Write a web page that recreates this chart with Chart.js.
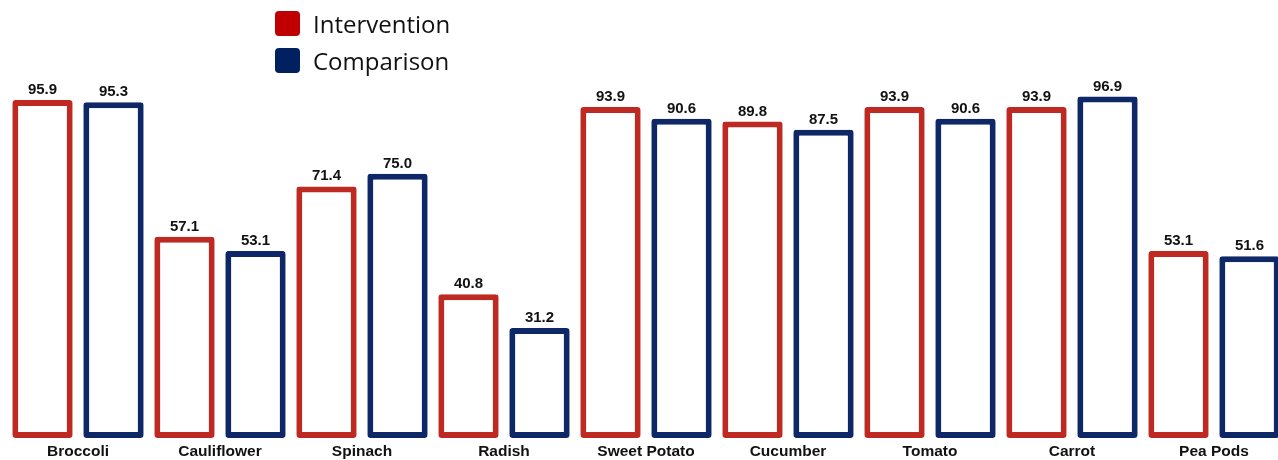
<!DOCTYPE html>
<html lang="en">
<head>
  <meta charset="UTF-8">
  <title>Vegetable acceptance</title>
  <script src="https://cdn.jsdelivr.net/npm/chart.js"></script>
  <style>
    html, body { margin: 0; padding: 0; background: #fff; overflow: hidden; }
    #wrap { position: relative; width: 1292px; height: 460px; }
    .leg { position: absolute; left: 275px; font-family: "Open Sans", "Noto Sans", sans-serif; font-size: 24px; color: #111; display: flex; align-items: center; }
    .leg span { display: inline-block; width: 25px; height: 25px; border-radius: 4px; margin-right: 13px; }
  </style>
</head>
<body>
  <div id="wrap">
    <canvas id="chart" width="1292" height="460"></canvas>
    <div class="leg" style="top:7px"><span style="background:#c00000"></span>Intervention</div>
    <div class="leg" style="top:44px"><span style="background:#002060"></span>Comparison</div>
  </div>

  <script>
    const categories = ['Broccoli', 'Cauliflower', 'Spinach', 'Radish', 'Sweet Potato', 'Cucumber', 'Tomato', 'Carrot', 'Pea Pods'];
    const intervention = [95.9, 57.1, 71.4, 40.8, 93.9, 89.8, 93.9, 93.9, 53.1];
    const comparison = [95.3, 53.1, 75.0, 31.2, 90.6, 87.5, 90.6, 96.9, 51.6];

    const valueLabels = {
      id: 'valueLabels',
      afterDatasetsDraw(c) {
        const ctx = c.ctx;
        ctx.save();
        ctx.font = 'bold 15px "Liberation Sans", Arial, sans-serif';
        ctx.fillStyle = '#111';
        ctx.textAlign = 'center';
        ctx.textBaseline = 'alphabetic';
        c.data.datasets.forEach((ds, i) => {
          c.getDatasetMeta(i).data.forEach((bar, j) => {
            ctx.fillText(ds.data[j].toFixed(1), bar.x, bar.y - 6);
          });
        });
        ctx.restore();
      }
    };

    new Chart(document.getElementById('chart'), {
      type: 'bar',
      data: {
        labels: categories,
        datasets: [
          { label: 'Intervention', data: intervention, backgroundColor: '#fff', borderColor: '#be2a22', borderWidth: 6, borderSkipped: false, borderRadius: 3 },
          { label: 'Comparison', data: comparison, backgroundColor: '#fff', borderColor: '#0e2767', borderWidth: 6, borderSkipped: false, borderRadius: 3 }
        ]
      },
      options: {
        responsive: false,
        animation: false,
        categoryPercentage: 1.0,
        barPercentage: 0.85,
        layout: { padding: { left: 7, right: 7, top: 0, bottom: 0 } },
        plugins: { legend: { display: false }, tooltip: { enabled: false } },
        scales: {
          x: {
            grid: { display: false, drawTicks: false },
            border: { display: false },
            afterFit(scale) { scale.height = 22; },
            ticks: { padding: 4, color: '#111', font: { family: '"Liberation Sans", Arial, sans-serif', size: 15.5, weight: 'bold' } }
          },
          y: { display: false, min: 0, max: 124.3 }
        }
      },
      plugins: [valueLabels]
    });
  </script>
</body>
</html>
